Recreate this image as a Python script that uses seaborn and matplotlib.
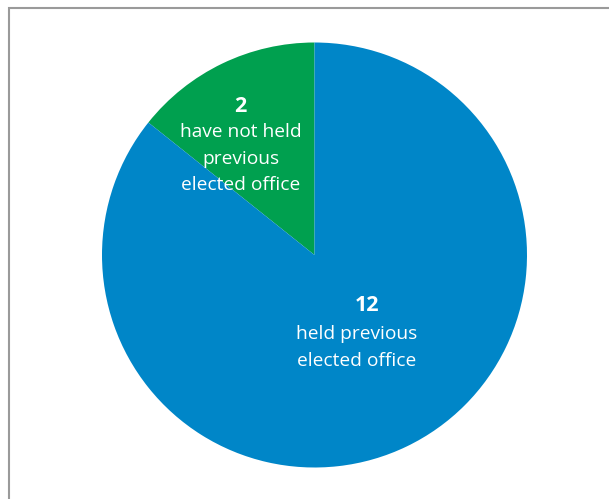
import matplotlib
matplotlib.use("Agg")
import matplotlib.pyplot as plt
from matplotlib.patches import Rectangle
import seaborn as sns

# Members by prior elected experience
counts = [12, 2]
numbers = ["12", "2"]
descriptions = ["held previous\nelected office", "have not held\nprevious\nelected office"]
colors = ["#0086C8", "#00A04F"]

sns.set_theme(style="white")
plt.rcParams["font.family"] = ["Open Sans", "DejaVu Sans"]

W, H = 609, 499
fig = plt.figure(figsize=(W / 100, H / 100), dpi=100)

cx, cy, r = 314.5, 255.0, 212.5
ax = fig.add_axes([(cx - r) / W, (H - cy - r) / H, 2 * r / W, 2 * r / H])

# Green wedge starts at 12 o'clock and runs counter-clockwise
ax.pie(counts[::-1], colors=colors[::-1], startangle=90, counterclock=True,
       radius=1.0, wedgeprops=dict(linewidth=0))
ax.set_xlim(-1, 1)
ax.set_ylim(-1, 1)
ax.set_aspect("equal")
ax.axis("off")

# Wedge labels: bold count on top, description below
num_pos = [(0.247, -0.236), (-0.348, 0.697)]
desc_pos = [(0.200, -0.330), (-0.348, 0.622)]
for (nx, ny), (dx, dy), num, desc in zip(num_pos, desc_pos, numbers, descriptions):
    ax.text(nx, ny, num, ha="center", va="center", color="white",
            fontsize=15.5, fontweight="bold")
    ax.text(dx, dy, desc, ha="center", va="top", color="white",
            fontsize=13.8, linespacing=1.62)

# Frame around the figure panel
fig.add_artist(Rectangle((8.5 / W, -0.05), 1.1, (H - 7.5) / H + 0.05,
                         transform=fig.transFigure, fill=False,
                         edgecolor="#9a9a9a", linewidth=1.5))

fig.savefig("out.png", dpi=100)
